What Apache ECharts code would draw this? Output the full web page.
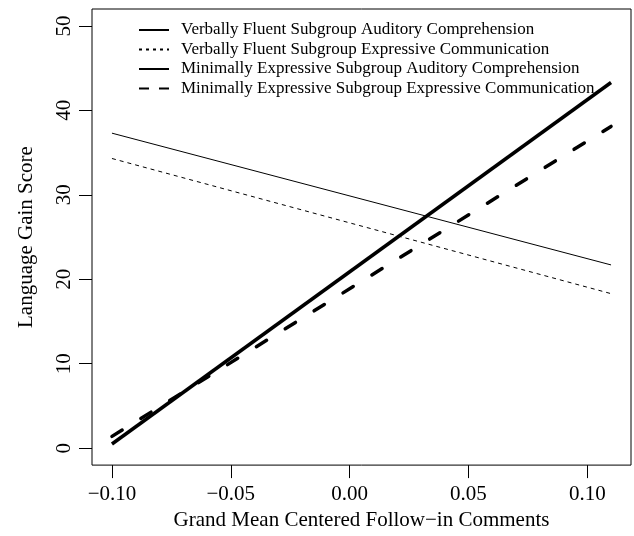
<!DOCTYPE html>
<html>
<head>
<meta charset="utf-8">
<script src="https://cdn.jsdelivr.net/npm/echarts@6/dist/echarts.min.js"></script>
<style>
html,body{margin:0;padding:0;background:#fff;}
#chart{width:634px;height:536px;}
</style>
</head>
<body>
<div id="chart"></div>
<script>
// Data
var xEnds = [-0.10, 0.11];
var seriesNames = [
  'Verbally Fluent Subgroup Auditory Comprehension',
  'Verbally Fluent Subgroup Expressive Communication',
  'Minimally Expressive Subgroup Auditory Comprehension',
  'Minimally Expressive Subgroup Expressive Communication'
];
var vfAuditory = [37.3, 21.7];
var vfExpressive = [34.3, 18.3];
var meAuditory = [0.5, 43.3];
var meExpressive = [1.4, 38.1];
var xTicks = [-0.10, -0.05, 0.00, 0.05, 0.10];
var yTicks = [0, 10, 20, 30, 40, 50];

var FONT = '"Liberation Serif", "Times New Roman", serif';

function pairs(vals) {
  return xEnds.map(function (x, i) { return [x, vals[i]]; });
}

var chart = echarts.init(document.getElementById('chart'), null, {renderer: 'canvas'});

var styles = [
  {width: 1, type: 'solid'},
  {width: 1, type: [4, 4]},
  {width: 3.5, type: 'solid'},
  {width: 3.5, type: [12, 22], cap: 'round'}
];
var valuesList = [vfAuditory, vfExpressive, meAuditory, meExpressive];

var series = seriesNames.map(function (name, i) {
  return {
    name: name,
    type: 'line',
    data: pairs(valuesList[i]),
    symbol: 'none',
    showSymbol: false,
    silent: true,
    animation: false,
    itemStyle: {color: '#000', opacity: 0},
    lineStyle: {color: '#000', opacity: 1, width: styles[i].width, type: styles[i].type, cap: styles[i].cap || 'butt'}
  };
});

var option = {
  animation: false,
  backgroundColor: '#fff',
  textStyle: {fontFamily: FONT, color: '#000'},
  grid: {left: 92, top: 9, right: 3, bottom: 68, show: true, borderColor: '#000', borderWidth: 1, backgroundColor: 'transparent'},
  legend: {
    orient: 'vertical',
    left: 138,
    top: 21.5,
    padding: 0,
    itemWidth: 30,
    itemHeight: 14,
    itemGap: 2.5,
    selectedMode: false,
    itemStyle: {opacity: 0},
    textStyle: {fontFamily: FONT, fontSize: 17, lineHeight: 17, color: '#000', padding: [0, 0, 0, 7]},
    data: [
      {name: seriesNames[0]},
      {name: seriesNames[1], lineStyle: {type: [3, 4]}},
      {name: seriesNames[2]},
      {name: seriesNames[3], lineStyle: {type: [10, 10], cap: 'butt'}}
    ]
  },
  xAxis: {
    type: 'value',
    min: -0.1084,
    max: 0.1184,
    name: 'Grand Mean Centered Follow\u2212in Comments',
    nameLocation: 'middle',
    nameGap: 43,
    nameTextStyle: {fontFamily: FONT, fontSize: 21, color: '#000'},
    splitLine: {show: false},
    axisLine: {show: false, onZero: false},
    axisTick: {show: true, inside: false, length: 13, customValues: xTicks, lineStyle: {color: '#000', width: 1}},
    axisLabel: {
      customValues: xTicks,
      margin: 19,
      fontFamily: FONT, fontSize: 21, color: '#000',
      formatter: function (v) {
        var s = Math.abs(v).toFixed(2);
        return (v < -1e-9 ? '\u2212' : '') + s;
      }
    }
  },
  yAxis: {
    type: 'value',
    min: -2,
    max: 52,
    name: 'Language Gain Score',
    nameLocation: 'middle',
    nameRotate: 90,
    nameGap: 55,
    nameTextStyle: {fontFamily: FONT, fontSize: 21, color: '#000'},
    splitLine: {show: false},
    axisLine: {show: false, onZero: false},
    axisTick: {show: true, inside: false, length: 13, customValues: yTicks, lineStyle: {color: '#000', width: 1}},
    axisLabel: {
      customValues: yTicks,
      rotate: 90,
      margin: 17,
      fontFamily: FONT, fontSize: 21, color: '#000'
    }
  },
  series: series
};

chart.setOption(option);
</script>
</body>
</html>
